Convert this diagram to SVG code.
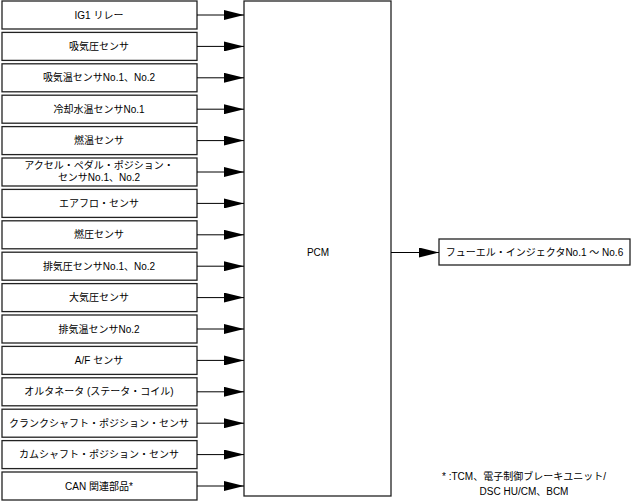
<svg xmlns="http://www.w3.org/2000/svg" width="634" height="502" viewBox="0 0 634 502">
<defs>
<style>
.box{fill:#fff;stroke:#222;stroke-width:1.3}
.t{font-family:"Liberation Sans","Noto Sans CJK JP",sans-serif;font-size:10px;fill:#000;text-anchor:middle}
.c{stroke:#000;stroke-width:1;fill:none;marker-end:url(#ah)}
</style>
<marker id="ah" markerUnits="userSpaceOnUse" markerWidth="20" markerHeight="10" refX="20" refY="5" orient="auto">
<path d="M0,0 L20,5 L0,10 Z" fill="#000"/>
</marker>
</defs>
<rect width="634" height="502" fill="#fff"/>
<g id="n1"><rect class="box" x="2" y="1" width="195" height="28"/><text class="t" x="99" y="18.5">IG1 リレー</text></g>
<g id="n2"><rect class="box" x="2" y="32.4" width="195" height="28"/><text class="t" x="99" y="49.9">吸気圧センサ</text></g>
<g id="n3"><rect class="box" x="2" y="63.8" width="195" height="28"/><text class="t" x="99" y="81.3">吸気温センサNo.1、No.2</text></g>
<g id="n4"><rect class="box" x="2" y="95.2" width="195" height="28"/><text class="t" x="99" y="112.7">冷却水温センサNo.1</text></g>
<g id="n5"><rect class="box" x="2" y="126.6" width="195" height="28"/><text class="t" x="99" y="144.1">燃温センサ</text></g>
<g id="n6"><rect class="box" x="2" y="158" width="195" height="28"/><text class="t" x="99" y="169">アクセル・ペダル・ポジション・</text><text class="t" x="99" y="180.5">センサNo.1、No.2</text></g>
<g id="n7"><rect class="box" x="2" y="189.4" width="195" height="28"/><text class="t" x="99" y="206.9">エアフロ・センサ</text></g>
<g id="n8"><rect class="box" x="2" y="220.8" width="195" height="28"/><text class="t" x="99" y="238.3">燃圧センサ</text></g>
<g id="n9"><rect class="box" x="2" y="252.2" width="195" height="28"/><text class="t" x="99" y="269.7">排気圧センサNo.1、No.2</text></g>
<g id="n10"><rect class="box" x="2" y="283.6" width="195" height="28"/><text class="t" x="99" y="301.1">大気圧センサ</text></g>
<g id="n11"><rect class="box" x="2" y="315" width="195" height="28"/><text class="t" x="99" y="332.5">排気温センサNo.2</text></g>
<g id="n12"><rect class="box" x="2" y="346.4" width="195" height="28"/><text class="t" x="99" y="363.9">A/F センサ</text></g>
<g id="n13"><rect class="box" x="2" y="377.8" width="195" height="28"/><text class="t" x="99" y="395.3">オルタネータ (ステータ・コイル)</text></g>
<g id="n14"><rect class="box" x="2" y="409.2" width="195" height="28"/><text class="t" x="99" y="426.7">クランクシャフト・ポジション・センサ</text></g>
<g id="n15"><rect class="box" x="2" y="440.6" width="195" height="28"/><text class="t" x="99" y="458.1">カムシャフト・ポジション・センサ</text></g>
<g id="n16"><rect class="box" x="2" y="472" width="195" height="28"/><text class="t" x="99" y="489.5">CAN 関連部品*</text></g>
<g id="pcm"><rect class="box" x="244" y="1" width="147" height="495"/><text class="t" x="318" y="256">PCM</text></g>
<g id="inj"><rect class="box" x="439" y="239" width="191" height="26"/><text class="t" x="534.5" y="256">フューエル・インジェクタNo.1 ～ No.6</text></g>
<g id="note"><text class="t" x="524" y="480">* :TCM、電子制御ブレーキユニット/</text><text class="t" x="524" y="494.5">DSC HU/CM、BCM</text></g>
<g id="connectors">
<line class="c" x1="197" y1="15" x2="244" y2="15"/>
<line class="c" x1="197" y1="46.4" x2="244" y2="46.4"/>
<line class="c" x1="197" y1="77.8" x2="244" y2="77.8"/>
<line class="c" x1="197" y1="109.2" x2="244" y2="109.2"/>
<line class="c" x1="197" y1="140.6" x2="244" y2="140.6"/>
<line class="c" x1="197" y1="172" x2="244" y2="172"/>
<line class="c" x1="197" y1="203.4" x2="244" y2="203.4"/>
<line class="c" x1="197" y1="234.8" x2="244" y2="234.8"/>
<line class="c" x1="197" y1="266.2" x2="244" y2="266.2"/>
<line class="c" x1="197" y1="297.6" x2="244" y2="297.6"/>
<line class="c" x1="197" y1="329" x2="244" y2="329"/>
<line class="c" x1="197" y1="360.4" x2="244" y2="360.4"/>
<line class="c" x1="197" y1="391.8" x2="244" y2="391.8"/>
<line class="c" x1="197" y1="423.2" x2="244" y2="423.2"/>
<line class="c" x1="197" y1="454.6" x2="244" y2="454.6"/>
<line class="c" x1="197" y1="486" x2="244" y2="486"/>
<line class="c" x1="391" y1="252.5" x2="439" y2="252.5"/>
</g>
</svg>
